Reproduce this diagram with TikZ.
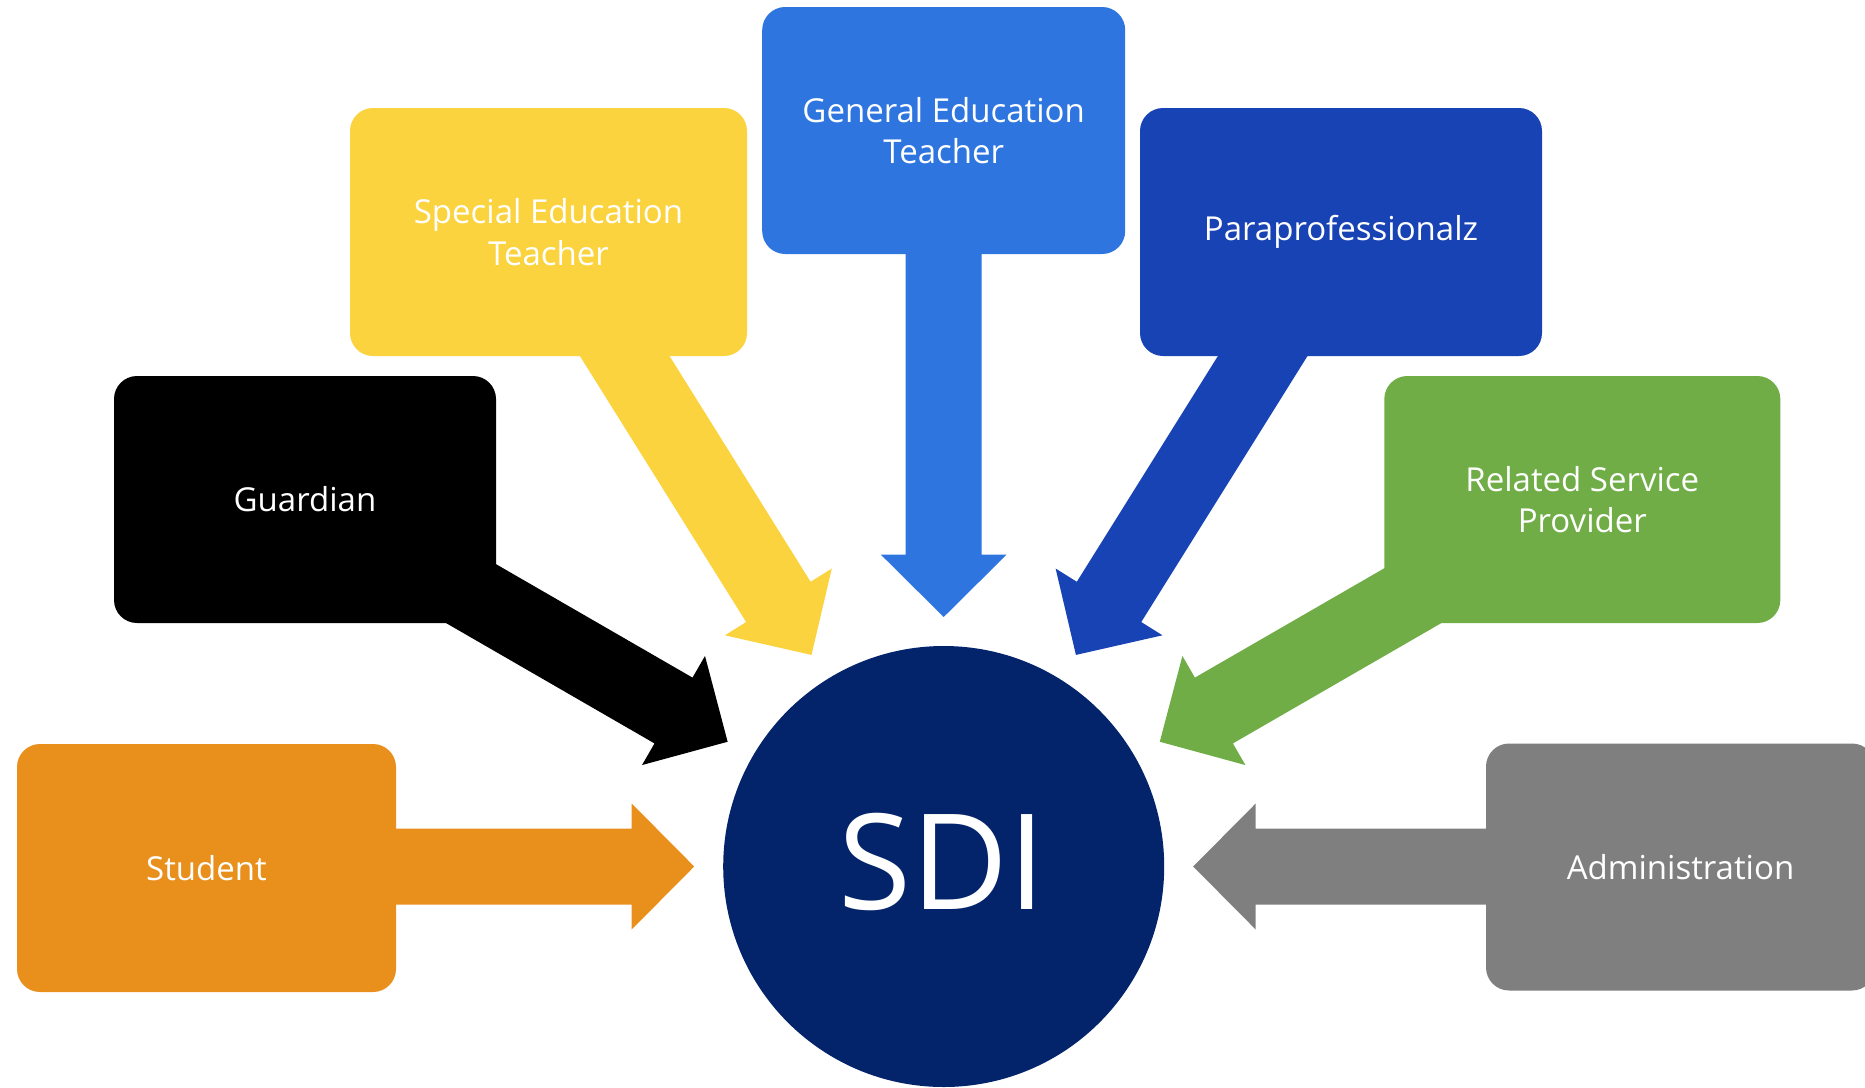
\documentclass[tikz,border=0pt]{standalone}
\usepackage{fontspec}
\setmainfont{Open Sans}
\definecolor{cStudent}{HTML}{E98F1C}
\definecolor{cGuardian}{HTML}{000000}
\definecolor{cSpecial}{HTML}{FBD33F}
\definecolor{cGeneral}{HTML}{2E75E0}
\definecolor{cPara}{HTML}{1843B4}
\definecolor{cRelated}{HTML}{70AD47}
\definecolor{cAdmin}{HTML}{7F7F7F}
\definecolor{cSDI}{HTML}{03246B}
\begin{document}
\begin{tikzpicture}[x=1pt,y=-1pt,
  box/.style={rounded corners=23pt, inner sep=0pt, align=center, text=white,
    font=\fontsize{33}{41.6}\selectfont},
]
\useasboundingbox (0,0) rectangle (1865,1087);
% centre
\node[circle, fill=cSDI, minimum size=441pt, inner sep=0pt] (sdi) at (943.7,866.5) {};
% block arrows pointing at the centre
\foreach \ang/\col/\len in {180/cStudent/600, 210/cGuardian/600, 238/cSpecial/680,
  270/cGeneral/700, 302/cPara/680, 330/cRelated/600, 0/cAdmin/600}{
  \begin{scope}[shift={(sdi.center)}, rotate=-\ang]
    \fill[\col] (249.5,0) -- (312,63) -- (312,38) -- (\len,38) -- (\len,-38)
      -- (312,-38) -- (312,-63) -- cycle;
  \end{scope}
}
% boxes
\node[box, fill=cStudent, minimum width=379pt, minimum height=248pt] (student) at (206.5,868) {Student};
\node[box, fill=cGuardian, minimum width=382pt, minimum height=247pt] (guardian) at (305,499.5) {Guardian};
\node[box, fill=cSpecial, minimum width=397pt, minimum height=248pt] (special) at (548.5,232) {Special Education\\Teacher};
\node[box, fill=cGeneral, minimum width=363pt, minimum height=247pt] (general) at (943.7,130.5) {General Education\\Teacher};
\node[box, fill=cPara, minimum width=402pt, minimum height=248pt] (para) at (1341,232) {Paraprofessionalz};
\node[box, fill=cRelated, minimum width=396pt, minimum height=247pt] (related) at (1582.3,499.5) {Related Service\\Provider};
\node[box, fill=cAdmin, minimum width=389pt, minimum height=247pt] (admin) at (1680.5,867) {Administration};
% centre label
\node[text=white, inner sep=0pt, font=\fontsize{133}{135}\selectfont] (sdilabel) at (942,862) {SDI};
\end{tikzpicture}
\end{document}
